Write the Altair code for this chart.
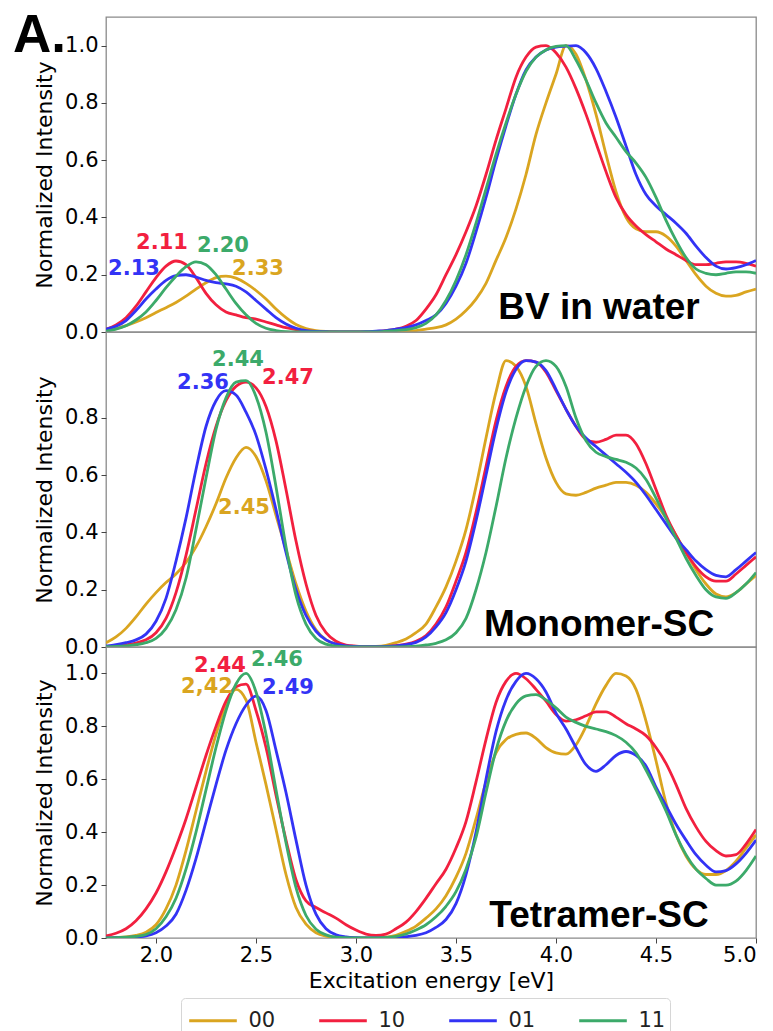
import altair as alt
import pandas as pd

# Excitation energy grid (eV) shared by every spectrum
ENERGY = [1.75, 1.80, 1.85, 1.90, 1.95, 2.00, 2.05, 2.10, 2.15, 2.20, 2.25, 2.30, 2.35, 2.40,
          2.45, 2.50, 2.55, 2.60, 2.65, 2.70, 2.75, 2.80, 2.85, 2.90, 2.95, 3.00, 3.05, 3.10,
          3.15, 3.20, 3.25, 3.30, 3.35, 3.40, 3.45, 3.50, 3.55, 3.60, 3.65, 3.70, 3.75, 3.80,
          3.85, 3.90, 3.95, 4.00, 4.05, 4.10, 4.15, 4.20, 4.25, 4.30, 4.35, 4.40, 4.45, 4.50,
          4.55, 4.60, 4.65, 4.70, 4.75, 4.80, 4.85, 4.90, 4.95, 5.00]

SERIES = ["00", "10", "01", "11"]
COLORS = ["#DAA520", "#F2203F", "#3333F5", "#3CAA6A"]

# --- BV in water -----------------------------------------------------------
BV_00 = [.005, .012, .022, .035, .05, .068, .085, .103, .125, .15, .172, .19, .195, .188,
         .17, .145, .115, .08, .05, .026, .012, .005, .002, .001, 0, 0, 0, 0,
         0, .001, .002, .005, .01, .015, .025, .045, .075, .115, .17, .25, .33, .43,
         .55, .69, .8, .9, 1.0, .97, .88, .76, .62, .49, .4, .36, .35, .35,
         .335, .3, .25, .2, .16, .135, .125, .128, .14, .15]
BV_10 = [.01, .025, .05, .09, .14, .19, .23, .248, .235, .19, .135, .095, .07, .06,
         .05, .045, .035, .025, .015, .008, .004, .002, .001, 0, 0, 0, 0, .002,
         .005, .01, .02, .04, .08, .13, .2, .27, .35, .44, .55, .67, .78, .89,
         .96, .995, 1.0, .975, .925, .85, .76, .66, .56, .47, .41, .37, .34, .315,
         .29, .27, .25, .235, .235, .24, .245, .245, .24, .23]
BV_01 = [.01, .02, .04, .075, .115, .15, .18, .197, .2, .192, .18, .172, .168, .16,
         .14, .11, .08, .05, .028, .013, .005, .002, .001, 0, 0, 0, .001, .003,
         .005, .01, .015, .025, .04, .06, .1, .16, .24, .35, .47, .6, .72, .83,
         .915, .96, .985, .995, .998, 1.0, .975, .92, .84, .75, .65, .55, .48, .44,
         .41, .38, .345, .3, .26, .23, .22, .225, .235, .25]
BV_11 = [.003, .01, .022, .042, .07, .11, .155, .195, .228, .245, .235, .2, .15, .1,
         .06, .03, .013, .005, .001, 0, 0, 0, 0, 0, 0, 0, 0, 0,
         .003, .005, .008, .015, .03, .06, .11, .18, .27, .38, .5, .62, .73, .83,
         .91, .96, .985, .997, 1.0, .95, .88, .8, .73, .68, .63, .59, .54, .47,
         .39, .32, .26, .22, .205, .2, .205, .21, .21, .205]

# --- Monomer-SC ------------------------------------------------------------
MONO_00 = [.015, .035, .065, .105, .15, .19, .225, .255, .295, .35, .42, .5, .59, .66,
           .697, .665, .58, .46, .34, .22, .125, .06, .025, .01, .004, .002, .001, .002,
           .006, .015, .028, .05, .08, .14, .21, .3, .41, .56, .73, .89, 1.0, .98,
           .91, .78, .66, .575, .535, .53, .54, .555, .565, .575, .575, .565, .54, .5,
           .45, .39, .33, .27, .22, .185, .175, .19, .22, .25]
MONO_10 = [.002, .004, .008, .014, .025, .05, .1, .19, .32, .48, .64, .77, .86, .91,
           .925, .905, .84, .72, .55, .37, .22, .11, .05, .02, .007, .003, .001, .001,
           .002, .005, .01, .02, .04, .08, .14, .23, .33, .47, .63, .79, .91, .98,
           1.0, .995, .96, .895, .83, .77, .725, .715, .725, .74, .74, .71, .64, .55,
           .46, .39, .33, .28, .245, .23, .23, .255, .285, .315]
MONO_01 = [.003, .008, .015, .025, .045, .09, .17, .3, .45, .62, .77, .86, .895, .88,
           .82, .74, .62, .48, .33, .2, .11, .055, .025, .01, .004, .002, .001, .001,
           .002, .004, .008, .016, .035, .07, .12, .2, .3, .44, .6, .76, .89, .97,
           1.0, .995, .965, .9, .83, .77, .73, .7, .67, .64, .61, .575, .53, .48,
           .43, .38, .34, .3, .27, .25, .245, .27, .3, .33]
MONO_11 = [.001, .002, .004, .008, .015, .03, .065, .13, .24, .41, .59, .76, .87, .925,
           .93, .875, .75, .56, .35, .18, .08, .03, .01, .003, .001, 0, 0, 0,
           0, 0, .001, .003, .007, .013, .025, .05, .1, .2, .33, .49, .66, .8,
           .91, .98, 1.0, .98, .91, .8, .72, .68, .665, .655, .645, .625, .585, .52,
           .45, .38, .31, .25, .2, .175, .17, .19, .22, .26]

# --- Tetramer-SC -----------------------------------------------------------
TETRA_00 = [.001, .002, .004, .01, .022, .05, .11, .2, .33, .48, .63, .77, .88, .94,
            .9, .74, .58, .41, .24, .115, .052, .02, .007, .002, .001, 0, 0, .001,
            .003, .01, .025, .045, .075, .11, .16, .23, .32, .45, .59, .7, .75, .77,
            .775, .755, .72, .7, .695, .73, .8, .885, .955, 1.0, .99, .94, .82, .67,
            .51, .39, .31, .26, .24, .24, .255, .29, .34, .39]
TETRA_10 = [.008, .018, .035, .065, .11, .17, .25, .345, .45, .57, .69, .8, .895, .95,
            .96, .86, .72, .54, .37, .22, .14, .115, .095, .075, .05, .03, .015, .01,
            .015, .035, .06, .1, .15, .205, .26, .34, .44, .59, .75, .89, .97, 1.0,
            .98, .94, .895, .845, .82, .825, .84, .855, .855, .835, .81, .79, .765, .72,
            .66, .58, .49, .42, .365, .33, .31, .315, .355, .41]
TETRA_01 = [0, .001, .002, .004, .008, .02, .045, .09, .18, .3, .44, .58, .71, .81,
            .88, .914, .86, .71, .55, .37, .2, .09, .035, .012, .004, .001, 0, 0,
            .001, .002, .005, .01, .02, .04, .07, .13, .24, .4, .6, .78, .9, .97,
            1.0, .98, .93, .85, .79, .72, .655, .63, .655, .69, .705, .69, .65, .57,
            .5, .43, .37, .315, .275, .25, .255, .28, .32, .37]
TETRA_11 = [0, .001, .003, .006, .013, .035, .08, .15, .26, .4, .56, .72, .86, .96,
            1.0, .93, .77, .56, .36, .19, .085, .033, .012, .003, .001, 0, 0, 0,
            .002, .006, .015, .03, .05, .08, .12, .175, .26, .38, .55, .71, .82, .885,
            .915, .92, .9, .87, .835, .815, .8, .79, .78, .765, .74, .7, .635, .56,
            .48, .39, .315, .26, .225, .2, .2, .215, .255, .31]

# Peak annotations: text, energy, height, colour
BV_LABELS = ["2.11", "2.20", "2.13", "2.33"]
BV_LABEL_X = [2.03, 2.335, 1.89, 2.51]
BV_LABEL_Y = [0.29, 0.28, 0.20, 0.20]
BV_LABEL_C = ["#F2203F", "#3CAA6A", "#3333F5", "#DAA520"]

MONO_LABELS = ["2.44", "2.36", "2.47", "2.45"]
MONO_LABEL_X = [2.41, 2.235, 2.66, 2.44]
MONO_LABEL_Y = [0.98, 0.90, 0.92, 0.465]
MONO_LABEL_C = ["#3CAA6A", "#3333F5", "#F2203F", "#DAA520"]

TETRA_LABELS = ["2.44", "2.46", "2,42", "2.49"]
TETRA_LABEL_X = [2.32, 2.605, 2.255, 2.66]
TETRA_LABEL_Y = [1.007, 1.03, 0.928, 0.924]
TETRA_LABEL_C = ["#F2203F", "#3CAA6A", "#DAA520", "#3333F5"]

PANEL_NAMES = ["BV in water", "Monomer-SC", "Tetramer-SC"]
PANEL_HEIGHTS = [315, 315, 291]
PANEL_TICKS = [[0, 0.2, 0.4, 0.6, 0.8, 1.0], [0, 0.2, 0.4, 0.6, 0.8], [0, 0.2, 0.4, 0.6, 0.8, 1.0]]
NAME_Y = [0.045, 0.04, 0.04]

FONT = "DejaVu Sans"
PLOT_W = 650

color_enc = alt.Color(
    "series:N",
    scale=alt.Scale(domain=SERIES, range=COLORS),
    legend=alt.Legend(
        title=None, orient="none", direction="horizontal", columns=4,
        legendX=75, legendY=981,
        symbolType="M-1.4,0H1.4", symbolSize=1156, symbolStrokeWidth=3,
        symbolOffset=9.5,
        labelFont=FONT, labelFontSize=21, labelColor="#222222", labelOffset=17,
        columnPadding=37, padding=4, strokeColor="#d6d6d6", cornerRadius=4,
        fillColor="white",
    ),
)


def panel(idx, spectra, labels, lab_x, lab_y, lab_c, show_x):
    frames = []
    for name, values in zip(SERIES, spectra):
        frames.append(pd.DataFrame({"energy": ENERGY, "intensity": values, "series": name}))
    df = pd.concat(frames, ignore_index=True)

    if show_x:
        x_axis = alt.Axis(values=[2.0, 2.5, 3.0, 3.5, 4.0, 4.5, 5.0], format=".1f",
                          title="Excitation energy [eV]", labelPadding=1, titlePadding=5)
    else:
        x_axis = None
    x_enc = alt.X("energy:Q", scale=alt.Scale(domain=[1.75, 5.0], nice=False, zero=False),
                  axis=x_axis)
    y_enc = alt.Y("intensity:Q", scale=alt.Scale(domain=[0, 1.1], nice=False),
                  axis=alt.Axis(values=PANEL_TICKS[idx], format=".1f",
                                title="Normalized Intensity"))

    layers = []
    for name in SERIES:
        layers.append(
            alt.Chart(df[df["series"] == name])
            .mark_line(interpolate="monotone", strokeWidth=2.8, clip=True)
            .encode(x=x_enc, y=y_enc, color=color_enc)
        )

    ann = pd.DataFrame({"label": labels, "energy": lab_x, "intensity": lab_y, "tone": lab_c})
    layers.append(
        alt.Chart(ann)
        .mark_text(font=FONT, fontSize=21, fontWeight="bold", align="center",
                   baseline="alphabetic")
        .encode(x="energy:Q", y="intensity:Q", text="label:N",
                color=alt.Color("tone:N", scale=None))
    )

    name_df = pd.DataFrame({"label": [PANEL_NAMES[idx]], "energy": [4.215],
                            "intensity": [NAME_Y[idx]]})
    layers.append(
        alt.Chart(name_df)
        .mark_text(font="Liberation Sans", fontSize=37, fontWeight="bold",
                   align="center", baseline="alphabetic", color="black")
        .encode(x="energy:Q", y="intensity:Q", text="label:N")
    )

    if idx == 0:
        tag = pd.DataFrame({"label": ["A."]})
        layers.append(
            alt.Chart(tag)
            .mark_text(font="Liberation Sans", fontSize=53, fontWeight="bold",
                       align="left", baseline="top", color="black")
            .encode(text="label:N", x=alt.value(-93), y=alt.value(-7))
        )

    return alt.layer(*layers).properties(width=PLOT_W, height=PANEL_HEIGHTS[idx])


p1 = panel(0, [BV_00, BV_10, BV_01, BV_11], BV_LABELS, BV_LABEL_X, BV_LABEL_Y, BV_LABEL_C, False)
p2 = panel(1, [MONO_00, MONO_10, MONO_01, MONO_11], MONO_LABELS, MONO_LABEL_X, MONO_LABEL_Y,
           MONO_LABEL_C, False)
p3 = panel(2, [TETRA_00, TETRA_10, TETRA_01, TETRA_11], TETRA_LABELS, TETRA_LABEL_X,
           TETRA_LABEL_Y, TETRA_LABEL_C, True)

chart = (
    alt.vconcat(p1, p2, p3, spacing=0, bounds="flush")
    .properties(padding={"left": 12, "top": 9, "right": 5, "bottom": 0})
    .configure_view(stroke="#8a8a8a", strokeWidth=1.3)
    .configure_axis(
        grid=False, domain=False, ticks=True, tickSize=5, tickColor="#444444", tickWidth=1,
        labelFont=FONT, labelFontSize=21, labelColor="black", labelPadding=3,
        titleFont=FONT, titleFontSize=22, titleFontWeight="normal", titleColor="black",
    )
    .configure_axisY(titlePadding=8)
)

chart.save("out.html", embed_options={"renderer": "svg", "actions": False})
